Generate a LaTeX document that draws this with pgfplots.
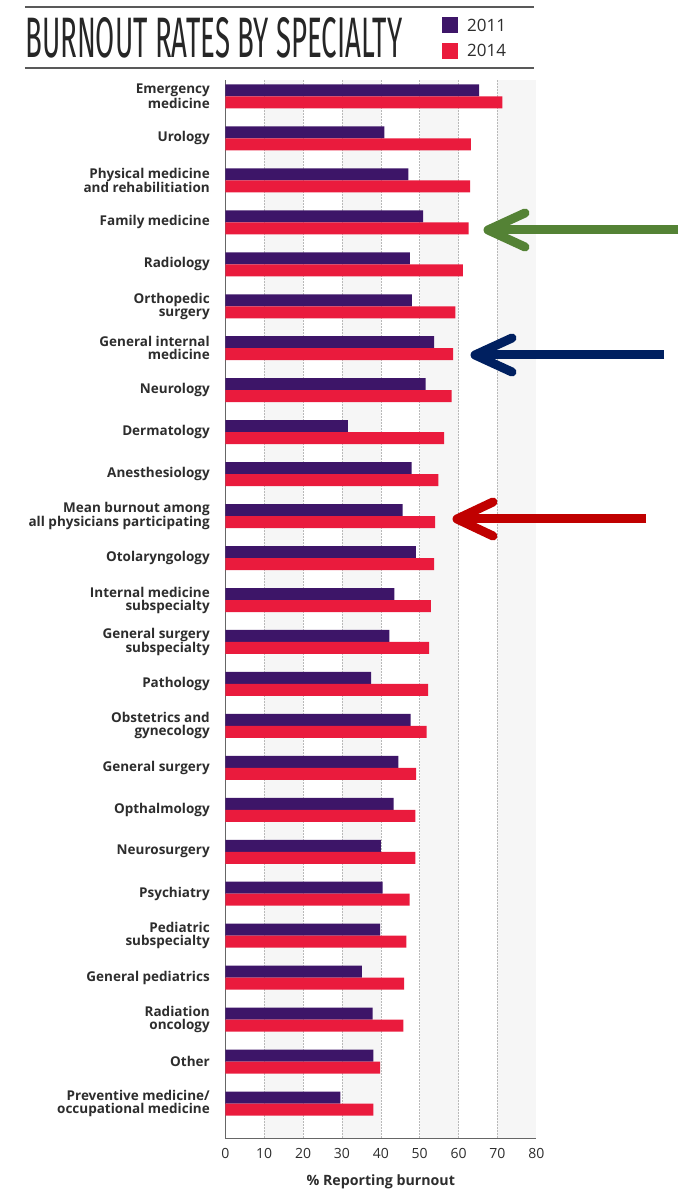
\documentclass[border=0pt]{standalone}
\usepackage{pgfplots}
\pgfplotsset{compat=1.18}
\usepackage{pgfplotstable}
\usepackage{fontspec}
\usepackage{graphicx}
\usetikzlibrary{calc}
\setmainfont{Open Sans}
\newfontfamily\titlefont{Fira Sans}
\definecolor{purp}{RGB}{61,21,104}
\definecolor{redb}{RGB}{234,27,61}
\definecolor{band}{RGB}{246,246,246}
\definecolor{txt}{RGB}{45,45,45}
\definecolor{agreen}{RGB}{84,130,53}
\definecolor{anavy}{RGB}{0,32,96}
\definecolor{ared}{RGB}{192,0,0}

\pgfplotstableread{
y a b
24 65.3 71.3
23 40.9 63.2
22 47.1 63.0
21 50.9 62.6
20 47.5 61.1
19 48.0 59.2
18 53.7 58.6
17 51.5 58.2
16 31.5 56.3
15 47.9 54.8
14 45.6 54.0
13 49.0 53.7
12 43.5 52.9
11 42.2 52.4
10 37.5 52.2
9 47.7 51.8
8 44.5 49.1
7 43.3 48.9
6 40.0 48.9
5 40.5 47.4
4 39.8 46.6
3 35.1 46.0
2 37.9 45.8
1 38.1 39.8
0 29.6 38.1
}\data

\begin{document}
\begin{tikzpicture}[x=1pt,y=1pt]
\begin{axis}[
  scale only axis, width=311pt, height=1058pt,
  xmin=0, xmax=80, ymin=-0.821, ymax=24.393,
  set layers,
  axis x line*=bottom, axis y line*=left,
  axis line style={-, gray!80!black, line width=0.8pt},
  xtick={0,10,...,70}, extra x ticks={80}, extra tick style={grid=none},
  xmajorgrids, grid style={gray!55, dash pattern=on 1.5pt off 1.5pt, line width=0.6pt},
  tick style={draw=none},
  /pgf/number format/assume math mode=true,
  xticklabel style={font=\fontsize{14}{15}\selectfont, text=txt, yshift=-7pt},
  ytick={0,...,24},
  yticklabels={{Preventive medicine/\\occupational medicine},{Other},{Radiation\\oncology},{General pediatrics},{Pediatric\\subspecialty},{Psychiatry},{Neurosurgery},{Opthalmology},{General surgery},{Obstetrics and\\gynecology},{Pathology},{General surgery\\subspecialty},{Internal medicine\\subspecialty},{Otolaryngology},{Mean burnout among\\all physicians participating},{Anesthesiology},{Dermatology},{Neurology},{General internal\\medicine},{Orthopedic\\surgery},{Radiology},{Family medicine},{Physical medicine\\and rehabilitiation},{Urology},{Emergency\\medicine}},
  yticklabel style={align=right, font=\bfseries\fontsize{13.5}{13}\selectfont, text=txt, xshift=-12pt},
  xlabel={\% Reporting burnout},
  xlabel style={font=\bfseries\fontsize{14.2}{15}\selectfont, text=txt, yshift=-9pt},
  clip=false,
]
\coordinate (O) at (rel axis cs:0,0);
\begin{pgfonlayer}{axis background}
\fill[band] (axis cs:10,-0.821) rectangle (axis cs:20,24.393);
\fill[band] (axis cs:30,-0.821) rectangle (axis cs:40,24.393);
\fill[band] (axis cs:50,-0.821) rectangle (axis cs:60,24.393);
\fill[band] (axis cs:70,-0.821) rectangle (axis cs:80,24.393);
\end{pgfonlayer}
\addplot[xbar, bar width=12pt, bar shift=6pt, fill=purp, draw=none] table[x=a, y=y]{\data};
\addplot[xbar, bar width=12pt, bar shift=-6pt, fill=redb, draw=none] table[x=b, y=y]{\data};
\end{axis}

\begin{scope}[shift={($(O)+(-225.3,-61)$)}]
% header rules
\draw[line width=2.2pt, gray!70!black] (25,1192) -- (534,1192);
\draw[line width=2.2pt, gray!70!black] (25,1131) -- (534,1131);
\node[anchor=south west, inner sep=0, text=black!85] at (25,1141) {\resizebox{377pt}{40pt}{\titlefont BURNOUT RATES BY SPECIALTY}};
% legend
\fill[purp] (442,1166) rectangle (458,1182);
\fill[redb] (442,1140) rectangle (458,1156);
\node[anchor=west, inner sep=0, text=txt, font=\fontsize{17}{17}\selectfont] at (467,1174) {2011};
\node[anchor=west, inner sep=0, text=txt, font=\fontsize{17}{17}\selectfont] at (467,1149) {2014};
% annotation arrows
\draw[agreen, line width=9pt] (678,969) -- (494,969);
\draw[agreen, line width=9pt, line cap=round, line join=round] (525,986) -- (488,969) -- (525,952);
\draw[anavy, line width=9pt] (664,844) -- (481,844);
\draw[anavy, line width=9pt, line cap=round, line join=round] (512,861) -- (475,844) -- (512,827);
\draw[ared, line width=9pt] (646,680) -- (463,680);
\draw[ared, line width=9pt, line cap=round, line join=round] (493,697) -- (457,680) -- (493,663);
\pgfresetboundingbox
\useasboundingbox (0,0) rectangle (681,1199);
\end{scope}
\end{tikzpicture}
\end{document}
